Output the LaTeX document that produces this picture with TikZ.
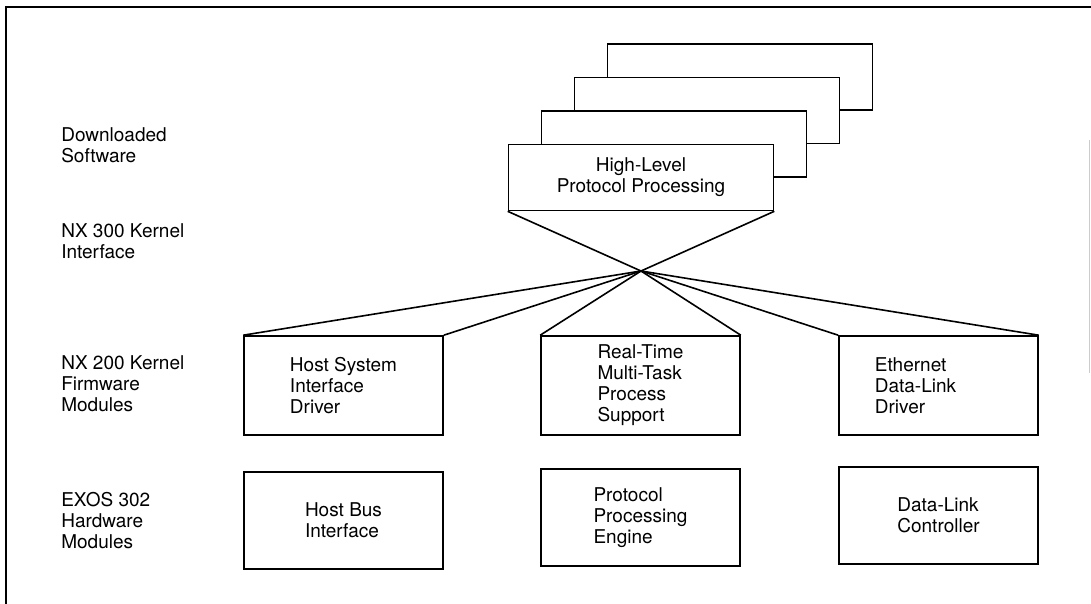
\documentclass[tikz,border=0pt]{standalone}
\usepackage{fontspec}
\setmainfont{TeX Gyre Heros}
\usetikzlibrary{positioning}
\tikzset{
    layer/.style={
    align=left,inner sep=0pt,anchor=west
    },
    module/.style={
    rectangle,draw=black,fill=white,minimum width=199pt,minimum height=99pt,align=left,inner sep=0pt
    },
    hwmodule/.style={
    module,minimum height=97pt
    },
    sheet/.style={
    rectangle,draw=black,fill=white,minimum width=265pt,minimum height=66pt,align=center,inner sep=0pt
    },
}

\begin{document}
\begin{tikzpicture}[x=1pt, y=-1pt, line width=1.6pt, on grid, font=\fontsize{19}{21}\selectfont]
   \useasboundingbox (0,0) rectangle (1091,604);
   % frame
   \draw (6,604) -- (6,7) -- (1091,7);
   \draw[black!20,line width=1pt] (1089,140) -- (1089,373);

   % layer names
   \node[layer] (dl) at (60.5,145.5) {Downloaded\\Software};
   \node[layer] (k3) at (60.5,241) {NX 300 Kernel\\Interface};
   \node[layer] (k2) at (60.5,384) {NX 200 Kernel\\Firmware\\Modules};
   \node[layer] (hw) at (60.5,521) {EXOS 302\\Hardware\\Modules};

   % stacked protocol sheets
   \foreach \i in {3,2,1}
     \node[sheet] (hlp\i) at (641+33*\i,177.5-33.5*\i) {};
   \node[sheet] (hlp) at (641,177.5) {High-Level\\Protocol Processing};
   \coordinate (cross) at (641,271);

   % firmware modules
   \node[module] (rt) at (640.5,385.5) {Real-Time\\Multi-Task\\Process\\Support};
   \node[module,left=297pt of rt] (hsd) {Host System\\Interface\\Driver};
   \node[module,right=298pt of rt] (eth) {};
   \node[align=left,inner sep=0pt] (ethtext) at ([xshift=-23pt]eth.center) {Ethernet\\Data-Link\\Driver};

   % hardware modules
   \node[hwmodule,below=135pt of hsd] (hbi) {Host Bus\\Interface};
   \node[hwmodule,below=132pt of rt] (ppe) {Protocol\\Processing\\Engine};
   \node[hwmodule,below=130pt of eth] (dlc) {Data-Link\\Controller};

  \path[-]
    (hlp.south west) edge (cross)
    (hlp.south east) edge (cross)
    (cross) edge (hsd.north west)
    (cross) edge (hsd.north east)
    (cross) edge (rt.north west)
    (cross) edge (rt.north east)
    (cross) edge (eth.north west)
    (cross) edge (eth.north east);
\end{tikzpicture}
\end{document}
